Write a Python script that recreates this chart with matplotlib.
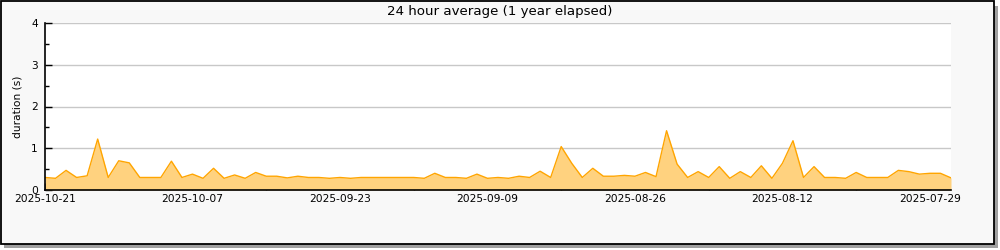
import matplotlib
matplotlib.use("Agg")
import matplotlib.pyplot as plt
import matplotlib.dates as mdates
from matplotlib.patches import Rectangle
import numpy as np
import pandas as pd

title = "24 hour average (1 year elapsed)"
ylabel = "duration (s)"
start_date = "2025-10-21"
end_date = "2025-07-27"
values = [0.30, 0.28, 0.47, 0.30, 0.34, 1.22, 0.30, 0.70, 0.65, 0.30,
          0.30, 0.30, 0.69, 0.30, 0.38, 0.28, 0.52, 0.28, 0.36, 0.28,
          0.42, 0.33, 0.33, 0.29, 0.33, 0.30, 0.30, 0.28, 0.30, 0.28,
          0.30, 0.30, 0.30, 0.30, 0.30, 0.30, 0.28, 0.40, 0.30, 0.30,
          0.28, 0.38, 0.28, 0.30, 0.28, 0.33, 0.30, 0.45, 0.30, 1.04,
          0.64, 0.30, 0.52, 0.33, 0.33, 0.35, 0.33, 0.42, 0.32, 1.42,
          0.62, 0.30, 0.44, 0.30, 0.56, 0.28, 0.44, 0.30, 0.58, 0.28,
          0.64, 1.18, 0.30, 0.56, 0.30, 0.30, 0.28, 0.42, 0.30, 0.30,
          0.30, 0.47, 0.44, 0.38, 0.40, 0.40, 0.29]
xtick_labels = ["2025-10-21", "2025-10-07", "2025-09-23", "2025-09-09",
                "2025-08-26", "2025-08-12", "2025-07-29"]
yticks = [0, 1, 2, 3, 4]

dates = pd.date_range(start=start_date, end=end_date, freq="-1D")
xd = mdates.date2num(dates.to_pydatetime())

W, H = 1000, 250
fig = plt.figure(figsize=(W / 100, H / 100), dpi=100, facecolor="white")

# frame with shadow
fig.patches.append(Rectangle((4 / W, 2 / H), 994 / W, 242 / H, transform=fig.transFigure,
                             facecolor="#a0a0a0", edgecolor="none", zorder=-3))
fig.patches.append(Rectangle((1 / W, 6 / H), 993 / W, 243 / H, transform=fig.transFigure,
                             facecolor="#f8f8f8", edgecolor="black", linewidth=1.3, zorder=-2))

ax = fig.add_axes([45 / W, 1 - 190 / H, 906 / W, 167 / H])
ax.set_zorder(2)
ax.set_facecolor("white")
ax.fill_between(xd, values, 0, color="#ffd27f", linewidth=0, zorder=2)
ax.plot(xd, values, color="#ffa500", linewidth=1.0, zorder=3)

ax.set_xlim(xd[0], xd[-1])
ax.set_ylim(0, 4)

major = mdates.date2num(pd.to_datetime(xtick_labels).to_pydatetime())
ax.set_xticks(major)
ax.set_xticklabels(xtick_labels)
minor = mdates.date2num(pd.date_range(start=start_date, end=end_date, freq="-7D").to_pydatetime())
ax.set_xticks(minor, minor=True)
ax.set_yticks(yticks)
ax.set_yticklabels([str(v) for v in yticks])
ax.set_yticks(np.arange(0.5, 4, 1.0), minor=True)

ax.tick_params(axis="x", which="both", direction="in", length=5, width=1, colors="black",
               labelsize=7.7, pad=3)
ax.tick_params(axis="y", which="major", direction="in", length=5, width=1, labelsize=7.7, pad=5)
ax.tick_params(axis="y", which="minor", direction="in", length=3, width=1)

ax.grid(axis="y", which="major", color="#c8c8c8", linewidth=1, zorder=1)
ax.set_axisbelow(True)
for s in ["top", "right"]:
    ax.spines[s].set_visible(False)
for s in ["left", "bottom"]:
    ax.spines[s].set_linewidth(1.2)
    ax.spines[s].set_zorder(5)

ax.set_ylabel(ylabel, fontsize=7.7, labelpad=6)
fig.text(0.4995, 1 - 11 / H, title, ha="center", va="center", fontsize=9.6)

fig.savefig("out.png", dpi=100, facecolor="white")
